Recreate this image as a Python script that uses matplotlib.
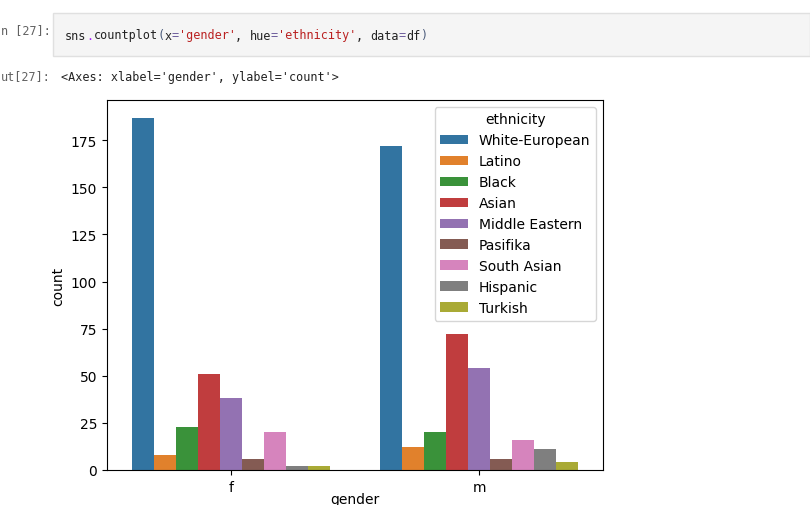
import matplotlib
matplotlib.use("Agg")
import matplotlib.pyplot as plt
import numpy as np
from matplotlib.patches import Rectangle

# counts
genders = ["f", "m"]
ethnicities = ["White-European", "Latino", "Black", "Asian", "Middle Eastern",
               "Pasifika", "South Asian", "Hispanic", "Turkish"]
counts_f = [187, 8, 23, 51, 38, 6, 20, 2, 2]
counts_m = [172, 12, 20, 72, 54, 6, 16, 11, 4]

# tab10 desaturated the way seaborn does it
COLORS = ["#3274a1", "#e1812c", "#3a923a", "#c03d3e", "#9372b2",
          "#845b53", "#d684bd", "#7f7f7f", "#a9aa35"]

W, H = 810, 506
fig = plt.figure(figsize=(W / 100, H / 100), dpi=100)


def px(x, y):
    return x / W, 1 - y / H


# --- notebook chrome -------------------------------------------------------
fig.patches.append(Rectangle(px(53, 57), (W - 53) / W, 43 / H,
                             transform=fig.transFigure, facecolor="#f5f5f5",
                             edgecolor="#e0e0e0", linewidth=1.0))
mono = dict(family="DejaVu Sans Mono", fontsize=8.5, va="center")
# prompts are clipped by the screenshot's left edge
fig.text(*px(1, 31), "n [27]:", ha="left", color="#616161", **mono)
fig.text(*px(1, 77), "ut[27]:", ha="left", color="#616161", **mono)

code_tokens = [("sns", "#222222"), (".", "#aa22ff"), ("countplot", "#222222"),
               ("(", "#4a5a7a"), ("x", "#222222"), ("=", "#6a5a9a"),
               ("'gender'", "#ba2121"), (", ", "#222222"), ("hue", "#222222"),
               ("=", "#6a5a9a"), ("'ethnicity'", "#ba2121"), (", ", "#222222"),
               ("data", "#222222"), ("=", "#6a5a9a"), ("df", "#222222"),
               (")", "#4a5a7a")]
cw = 7.1
pos = 0
for tok, col in code_tokens:
    fig.text(*px(65 + pos * cw, 36), tok, ha="left", color=col, **mono)
    pos += len(tok)

fig.text(*px(61, 77), "<Axes: xlabel='gender', ylabel='count'>",
         ha="left", color="#222222", **mono)

# --- the countplot ---------------------------------------------------------
ax = fig.add_axes([107 / W, (H - 471) / H, 496 / W, 370 / H])
x = np.arange(len(genders))
n = len(ethnicities)
bw = 0.8 / n
for i, (eth, col) in enumerate(zip(ethnicities, COLORS)):
    vals = [counts_f[i], counts_m[i]]
    ax.bar(x - 0.4 + bw * (i + 0.5), vals, width=bw, color=col, label=eth)

ax.set_xlim(-0.5, 1.5)
ax.set_ylim(0, 196.35)
ax.set_xticks(x)
ax.set_xticklabels(genders)
ax.set_yticks(np.arange(0, 176, 25))
ax.set_xlabel("gender", labelpad=-1)
ax.set_ylabel("count")
ax.legend(title="ethnicity", loc="upper right")

fig.savefig("out.png", dpi=100)
